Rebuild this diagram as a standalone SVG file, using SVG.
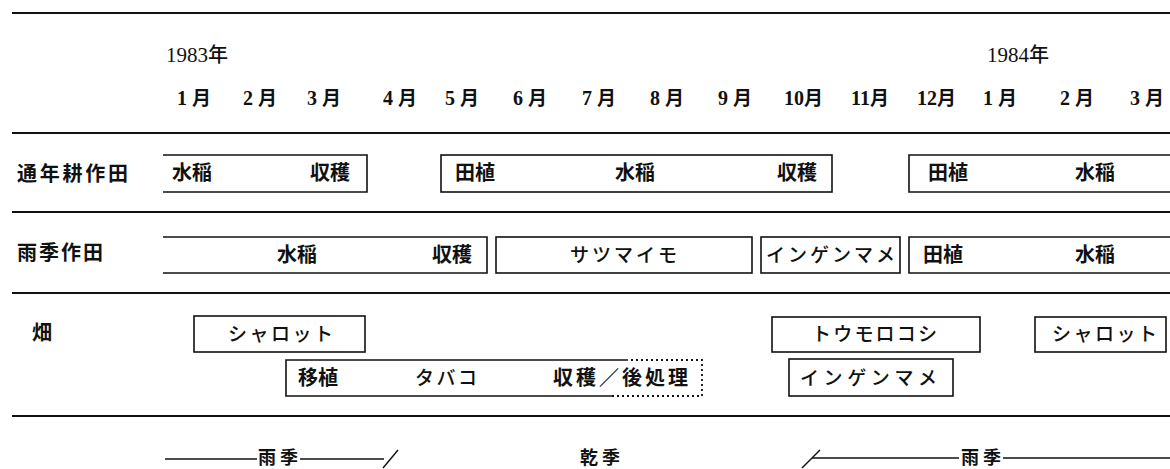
<svg xmlns="http://www.w3.org/2000/svg" width="1170" height="469" viewBox="0 0 1170 469">
<style>
.rule{stroke:#111;stroke-width:2;fill:none}
.box{stroke:#111;stroke-width:1.6;fill:none}
.dot{stroke:#111;stroke-width:1.8;fill:none;stroke-dasharray:2 3}
.thin{stroke:#111;stroke-width:1.4;fill:none}
.t{font-family:"Noto Sans CJK JP","Noto Sans CJK SC",sans-serif;font-weight:700;font-size:20px;fill:#111}
.k{font-family:"Noto Sans CJK JP","Noto Sans CJK SC",sans-serif;font-weight:500;font-size:19px;fill:#111}
.lab{font-family:"Noto Sans CJK JP","Noto Sans CJK SC",sans-serif;font-weight:700;font-size:20px;fill:#111}
.s{font-family:"Noto Sans CJK JP","Noto Sans CJK SC",sans-serif;font-weight:700;font-size:18px;fill:#111}
.m{font-family:"Liberation Serif","Noto Sans CJK JP",serif;font-weight:700;font-size:20px;fill:#111}
.m tspan.j{font-family:"Noto Sans CJK JP",sans-serif;font-size:19px}
.y{font-family:"Liberation Serif","Noto Sans CJK JP",serif;font-size:21px;fill:#111}
</style>
<rect width="1170" height="469" fill="#fff"/>
<g id="rules">
<line class="rule" x1="12" y1="13" x2="1170" y2="13"/>
<line class="rule" x1="12" y1="133" x2="1170" y2="133"/>
<line class="rule" x1="12" y1="212" x2="1170" y2="212"/>
<line class="rule" x1="12" y1="293" x2="1170" y2="293"/>
<line class="rule" x1="12" y1="416" x2="1170" y2="416"/>
</g>
<g id="header">
<text class="y" x="166" y="62">1983<tspan font-family="Noto Sans CJK JP" font-weight="500" font-size="20">年</tspan></text>
<text class="y" x="987" y="62">1984<tspan font-family="Noto Sans CJK JP" font-weight="500" font-size="20">年</tspan></text>
<text class="m" x="177" y="105">1 <tspan class="j">月</tspan></text>
<text class="m" x="243" y="105">2 <tspan class="j">月</tspan></text>
<text class="m" x="307" y="105">3 <tspan class="j">月</tspan></text>
<text class="m" x="383" y="105">4 <tspan class="j">月</tspan></text>
<text class="m" x="445" y="105">5 <tspan class="j">月</tspan></text>
<text class="m" x="513" y="105">6 <tspan class="j">月</tspan></text>
<text class="m" x="582" y="105">7 <tspan class="j">月</tspan></text>
<text class="m" x="650" y="105">8 <tspan class="j">月</tspan></text>
<text class="m" x="718" y="105">9 <tspan class="j">月</tspan></text>
<text class="m" x="784" y="105">10<tspan class="j">月</tspan></text>
<text class="m" x="851" y="105">11<tspan class="j">月</tspan></text>
<text class="m" x="917" y="105">12<tspan class="j">月</tspan></text>
<text class="m" x="983" y="105">1 <tspan class="j">月</tspan></text>
<text class="m" x="1060" y="105">2 <tspan class="j">月</tspan></text>
<text class="m" x="1130" y="105">3 <tspan class="j">月</tspan></text>
</g>
<g id="labels">
<text class="lab" x="17" y="181" textLength="111" lengthAdjust="spacing">通年耕作田</text>
<text class="lab" x="17" y="260" textLength="86" lengthAdjust="spacing">雨季作田</text>
<text class="lab" x="32" y="340">畑</text>
</g>
<g id="row1-a">
<path class="box" d="M163,155 H367 V192 H163"/>
<text class="t" x="172" y="180">水稲</text>
<text class="t" x="310" y="180">収穫</text>
</g>
<g id="row1-b">
<rect class="box" x="441" y="155" width="391" height="37"/>
<text class="t" x="455" y="180">田植</text>
<text class="t" x="615" y="180">水稲</text>
<text class="t" x="777" y="180">収穫</text>
</g>
<g id="row1-c">
<path class="box" d="M1170,155 H909 V192 H1170"/>
<text class="t" x="928" y="180">田植</text>
<text class="t" x="1075" y="180">水稲</text>
</g>
<g id="row2-a">
<path class="box" d="M163,237 H487 V273 H163"/>
<text class="t" x="277" y="262">水稲</text>
<text class="t" x="432" y="262">収穫</text>
</g>
<g id="row2-b">
<rect class="box" x="496" y="237" width="256" height="36"/>
<text class="k" x="570" y="262" textLength="107" lengthAdjust="spacing">サツマイモ</text>
</g>
<g id="row2-c">
<rect class="box" x="761" y="237" width="139" height="36"/>
<text class="k" x="766" y="262" textLength="129" lengthAdjust="spacing">インゲンマメ</text>
</g>
<g id="row2-d">
<path class="box" d="M1170,237 H909 V273 H1170"/>
<text class="t" x="923" y="262">田植</text>
<text class="t" x="1075" y="262">水稲</text>
</g>
<g id="row3-shallot1">
<rect class="box" x="194" y="316" width="171" height="36"/>
<text class="k" x="228" y="341" textLength="105" lengthAdjust="spacing">シャロット</text>
</g>
<g id="row3-tobacco">
<path class="box" d="M628,360 H286 V396 H612"/>
<path class="dot" d="M612,396 H702 V360 H628"/>
<text class="t" x="298" y="385">移植</text>
<text class="k" x="415" y="385" textLength="62" lengthAdjust="spacing">タバコ</text>
<text class="t" x="553" y="385" textLength="135" lengthAdjust="spacing">収穫／後処理</text>
</g>
<g id="row3-corn">
<rect class="box" x="772" y="317" width="208" height="35"/>
<text class="k" x="812" y="341" textLength="125" lengthAdjust="spacing">トウモロコシ</text>
</g>
<g id="row3-bean">
<rect class="box" x="789" y="359" width="164" height="37"/>
<text class="k" x="800" y="385" textLength="137" lengthAdjust="spacing">インゲンマメ</text>
</g>
<g id="row3-shallot2">
<rect class="box" x="1035" y="317" width="131" height="35"/>
<text class="k" x="1052" y="341" textLength="105" lengthAdjust="spacing">シャロット</text>
</g>
<g id="seasons">
<line class="thin" x1="165" y1="459" x2="257" y2="459"/>
<text class="s" x="258" y="464" textLength="40" lengthAdjust="spacing">雨季</text>
<line class="thin" x1="300" y1="459" x2="384" y2="459"/>
<line class="thin" x1="383" y1="468" x2="398" y2="450"/>
<text class="s" x="580" y="464" textLength="40" lengthAdjust="spacing">乾季</text>
<line class="thin" x1="802" y1="468" x2="820" y2="450"/>
<line class="thin" x1="812" y1="458" x2="959" y2="458"/>
<text class="s" x="961" y="464" textLength="40" lengthAdjust="spacing">雨季</text>
<line class="thin" x1="1003" y1="458" x2="1170" y2="458"/>
</g>
</svg>
